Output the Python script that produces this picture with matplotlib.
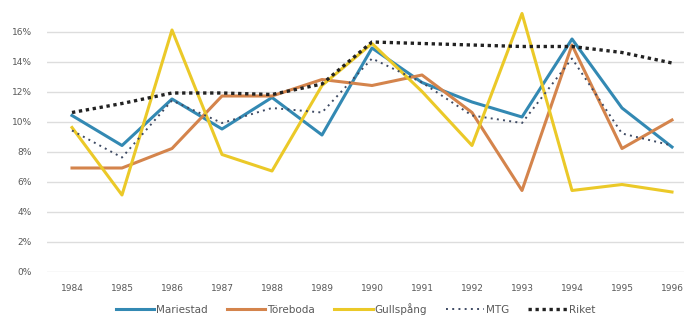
import numpy as np
import matplotlib.pyplot as plt
from matplotlib.ticker import FuncFormatter

# --- DATA (andel, procent) ---
YEARS = ['1984', '1985', '1986', '1987', '1988', '1989', '1990',
         '1991', '1992', '1993', '1994', '1995', '1996']
MARIESTAD = [10.4, 8.4, 11.5, 9.5, 11.6, 9.1, 14.9, 12.6, 11.3, 10.3, 15.5, 10.9, 8.3]
TOREBODA = [6.9, 6.9, 8.2, 11.7, 11.7, 12.8, 12.4, 13.1, 10.6, 5.4, 15.1, 8.2, 10.1]
GULLSPANG = [9.6, 5.1, 16.1, 7.8, 6.7, 12.4, 15.2, 12.0, 8.4, 17.2, 5.4, 5.8, 5.3]
MTG = [9.4, 7.6, 11.4, 9.9, 10.9, 10.6, 14.2, 12.6, 10.4, 9.9, 14.2, 9.2, 8.4]
RIKET = [10.6, 11.2, 11.9, 11.9, 11.8, 12.5, 15.3, 15.2, 15.1, 15.0, 15.0, 14.6, 13.9]
Y_TICKS = [0, 2, 4, 6, 8, 10, 12, 14, 16]

GREY_TEXT = '#595959'

fig = plt.figure(figsize=(6.84, 3.24), dpi=100)
ax = fig.add_axes([47 / 684, 52.5 / 324, 650 / 684, 271.5 / 324])

x = np.arange(len(YEARS))

ax.plot(x, MARIESTAD, color='#3389B3', lw=2.2, label='Mariestad', zorder=3)
ax.plot(x, TOREBODA, color='#D4844C', lw=2.2, label='Töreboda', zorder=3)
ax.plot(x, GULLSPANG, color='#EBC928', lw=2.2, label='Gullspång', zorder=3)
ax.plot(x, MTG, color='#3E4A63', lw=1.4, ls=(0, (1, 2.2)), label='MTG', zorder=4)
ax.plot(x, RIKET, color='#222222', lw=2.4, ls=(0, (1, 1.1)), label='Riket', zorder=4)

ax.set_xlim(-0.5, 12.5)
ax.set_ylim(0, 18.1)
ax.set_xticks(x)
ax.set_xticklabels(YEARS)
ax.set_yticks(Y_TICKS)
ax.yaxis.set_major_formatter(FuncFormatter(lambda v, _: f'{v:.0f}%'))

ax.grid(axis='y', color='#DDDDDD', lw=1)
ax.set_axisbelow(True)
for s in ax.spines.values():
    s.set_visible(False)
ax.tick_params(length=0, labelsize=6.5, labelcolor=GREY_TEXT)
ax.tick_params(axis='x', pad=9)
ax.tick_params(axis='y', pad=11)

fig.legend(loc='lower center', bbox_to_anchor=(0.52, 0.0), ncol=5,
           frameon=False, fontsize=7.5, labelcolor=GREY_TEXT,
           handlelength=3.7, handletextpad=0.2, columnspacing=1.8)

fig.savefig('out.png', dpi=100)
